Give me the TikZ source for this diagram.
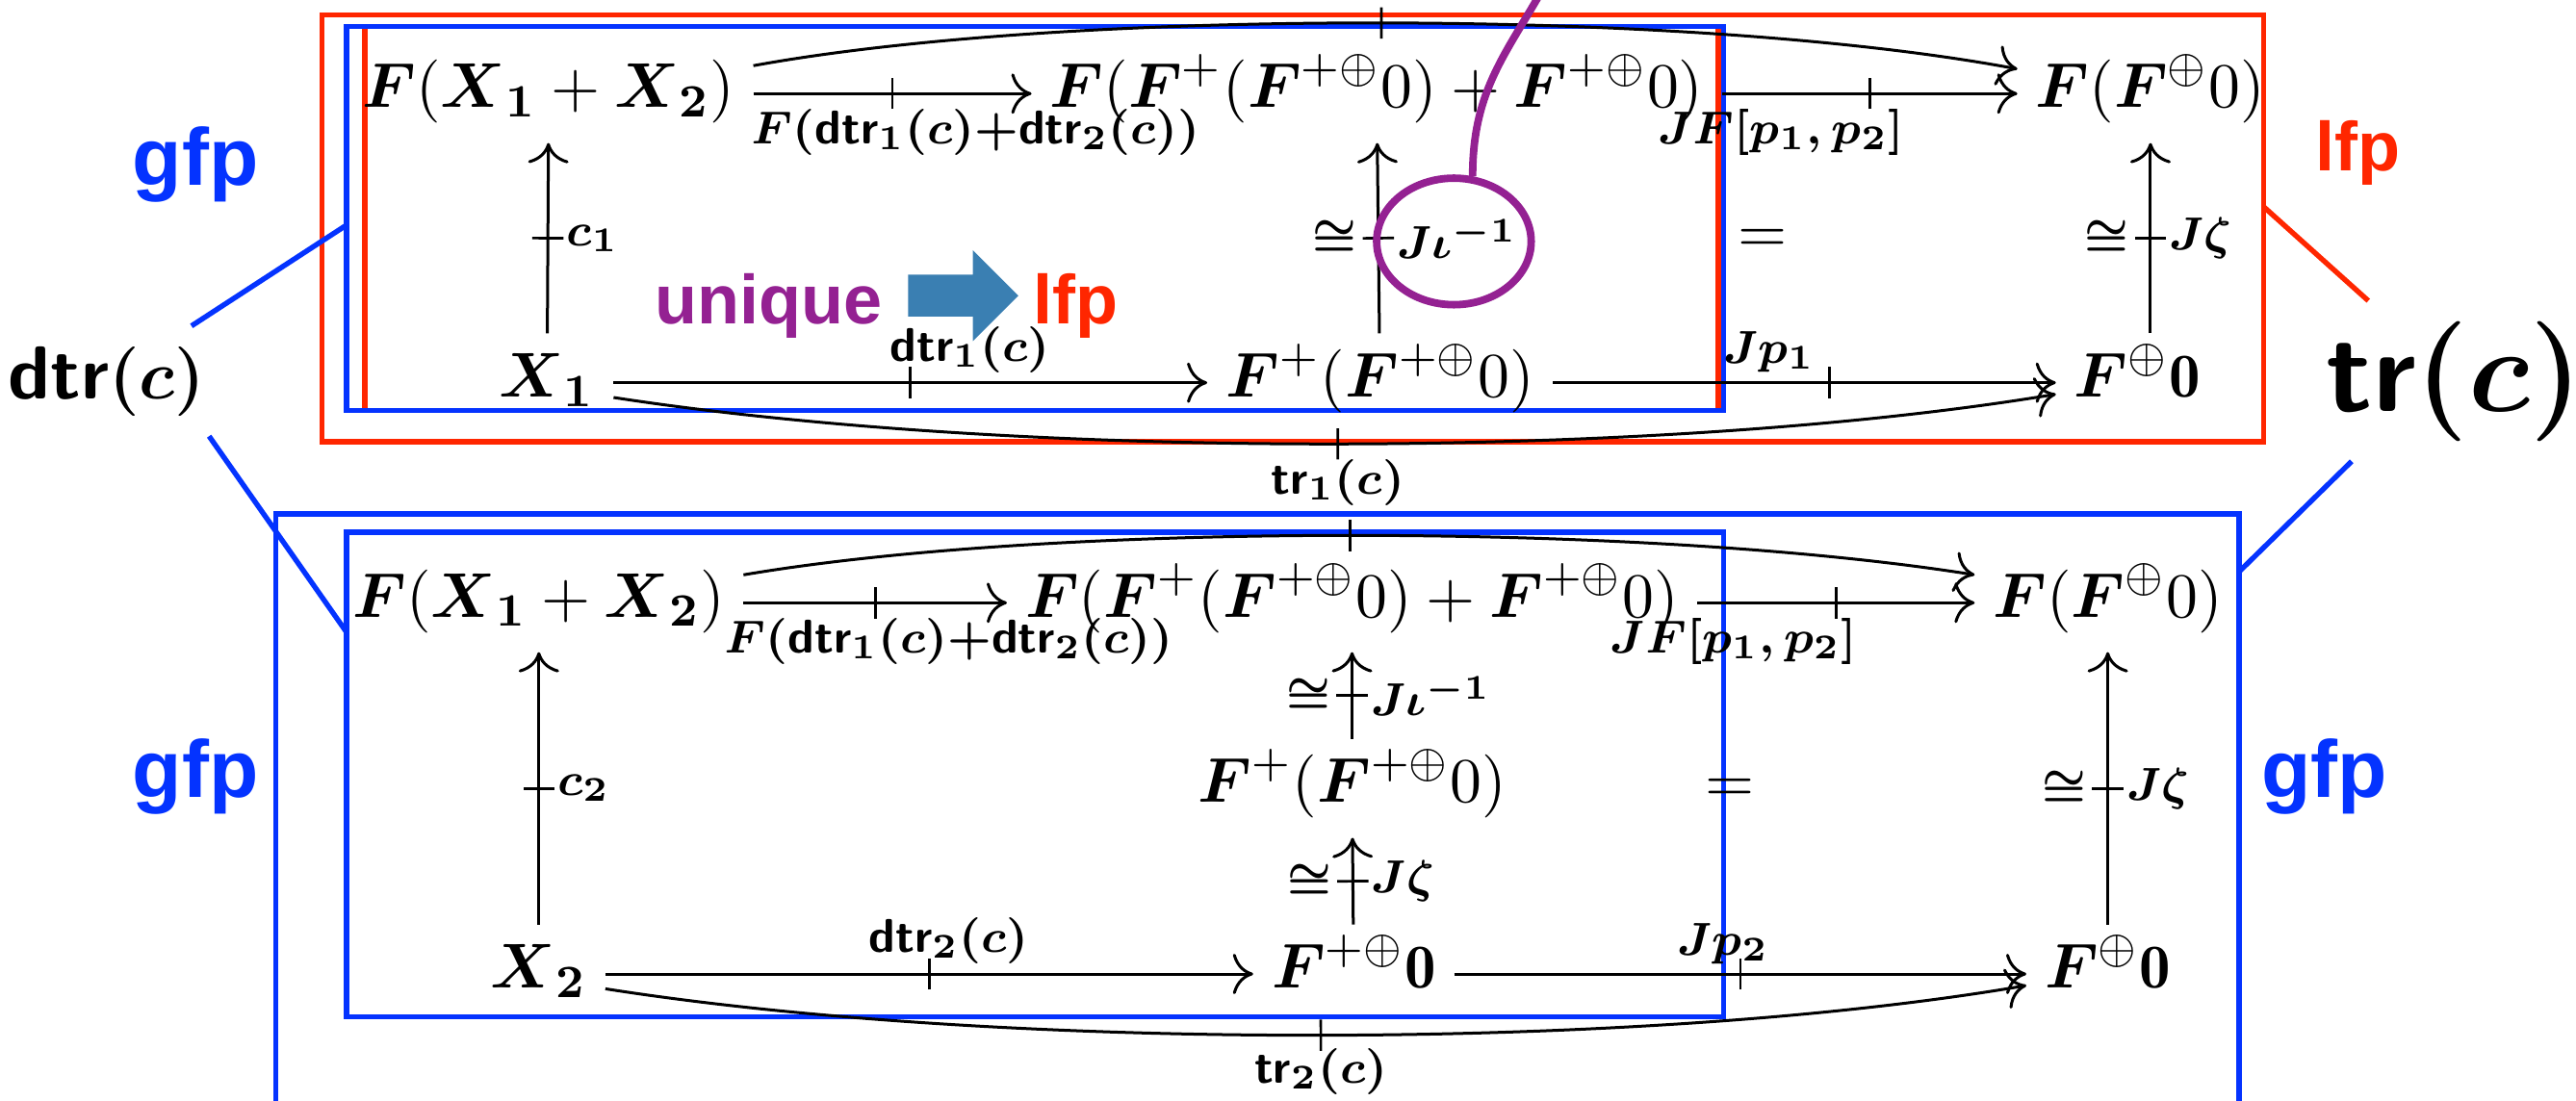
\documentclass[tikz,border=0pt]{standalone}
\usepackage{amsmath}
\usepackage{fontspec}
\newfontfamily\helv{Liberation Sans}
\usepackage{tikz}
\usetikzlibrary{arrows.meta, shapes.geometric, shapes.arrows, positioning, calc}

\definecolor{kred}{RGB}{255,38,0}
\definecolor{kblue}{RGB}{4,51,255}
\definecolor{kpurple}{RGB}{148,33,146}
\definecolor{ksteel}{RGB}{58,127,178}

\tikzset{
  obj/.style={font=\fontsize{10.8}{13}\selectfont, inner sep=3pt, text height=7.8pt, text depth=2.9pt},
  lbl/.style={font=\fontsize{8.2}{10}\selectfont\boldmath, inner sep=1.5pt},
  mor/.style={-{To[length=3.5pt,width=7pt]}, line width=0.5pt},
  tick/.style={sloped, inner sep=0pt, outer sep=0pt},
  frame/.style={line width=0.9pt},
  tag/.style={font=\helv\bfseries\fontsize{12}{14}\selectfont, inner sep=1pt},
  bigtag/.style={font=\helv\bfseries\fontsize{14}{16}\selectfont, inner sep=1pt},
}
\newcommand{\tk}{\rule[-2.7pt]{0.45pt}{5.4pt}}
\newcommand{\Fb}{\boldsymbol{F}}
\newcommand{\Xb}{\boldsymbol{X}}

\begin{document}
\begin{tikzpicture}[x=0.01cm, y=-0.01cm]
  \useasboundingbox (0,0) rectangle (1568,670);

  % frames
  \draw[frame, kred] (196,9) rectangle (1378,269);
  \draw[frame, kred] (222,16) rectangle (1046,250);
  \draw[frame, kblue] (211,16) rectangle (1049,250);
  \draw[frame, kblue] (168,690) -- (168,313) -- (1363,313) -- (1363,690);
  \draw[frame, kblue] (211,324) rectangle (1049,619);

  % upper diagram
  \node[obj] (tFX) at (334,57) {$\Fb(\Xb_{\boldsymbol{1}}+\Xb_{\boldsymbol{2}})$};
  \node[obj] (tFS) at (838,57) {$\Fb(\Fb^+(\Fb^{+\oplus}0)+\Fb^{+\oplus}0)$};
  \node[obj] (tFF) at (1309,57) {$\Fb(\Fb^{\oplus}0)$};
  \node[obj] (tX) at (333,233) {$\Xb_{\boldsymbol{1}}$};
  \node[obj] (tFP) at (840,233) {$\Fb^+(\Fb^{+\oplus}0)$};
  \node[obj] (tFO) at (1301,233) {$\Fb^{\oplus}\mathbf{0}$};
  \node[obj] (teq) at (1073,145) {$=$};

  \draw[mor] (tFX) -- node[tick]{\tk} node[lbl, pos=0.8, below=1pt]{$F(\mathsf{dtr}_1(c){+}\mathsf{dtr}_2(c))$} (tFS);
  \draw[mor] (tFS) -- node[tick]{\tk} node[lbl, pos=0.2, below=1pt]{$JF[p_1,p_2]$} (tFF);
  \draw[mor] (tX) -- node[tick]{\tk} node[lbl, right=1.5pt]{$c_1$} (tFX);
  \draw[mor] (tFP) -- node[tick]{\tk} node[lbl, left=2pt]{$\cong$} node[lbl, right=1.5pt]{$J\iota^{-1}$} (tFS);
  \draw[mor] (tFO.north -| tFF.south) -- node[tick]{\tk} node[lbl, left=2pt]{$\cong$} node[lbl, right=1.5pt]{$J\zeta$} (tFF.south);
  \draw[mor] (tX) -- node[tick]{\tk} node[lbl, pos=0.6, above]{$\mathsf{dtr}_1(c)$} (tFP);
  \draw[mor] (tFP) -- node[tick, pos=0.55]{\tk} node[lbl, pos=0.43, above]{$Jp_1$} (tFO);
  \draw[mor] ([yshift=1.7mm]tFX.east) .. controls (650,5) and (1030,5) .. ([yshift=1.5mm]tFF.west)
    node[tick, pos=0.5]{\tk};
  \draw[mor] ([yshift=-0.9mm]tX.east) .. controls (620,280) and (1010,280) .. ([yshift=-0.7mm]tFO.west)
    node[tick, pos=0.5]{\tk} node[lbl, pos=0.5, below=1pt]{$\mathsf{tr}_1(c)$};

  % lower diagram
  \node[obj] (bFX) at (328,367) {$\Fb(\Xb_{\boldsymbol{1}}+\Xb_{\boldsymbol{2}})$};
  \node[obj] (bFS) at (823,367) {$\Fb(\Fb^+(\Fb^{+\oplus}0)+\Fb^{+\oplus}0)$};
  \node[obj] (bFF) at (1283,367) {$\Fb(\Fb^{\oplus}0)$};
  \node[obj] (bFP) at (823,480) {$\Fb^+(\Fb^{+\oplus}0)$};
  \node[obj] (bX) at (328,593) {$\Xb_{\boldsymbol{2}}$};
  \node[obj] (bFQ) at (824,593) {$\Fb^{+\oplus}\mathbf{0}$};
  \node[obj] (bFO) at (1283,593) {$\Fb^{\oplus}\mathbf{0}$};
  \node[obj] (beq) at (1053,480) {$=$};

  \draw[mor] (bFX) -- node[tick]{\tk} node[lbl, pos=0.78, below=1pt]{$F(\mathsf{dtr}_1(c){+}\mathsf{dtr}_2(c))$} (bFS);
  \draw[mor] (bFS) -- node[tick]{\tk} node[lbl, pos=0.13, below=1pt]{$JF[p_1,p_2]$} (bFF);
  \draw[mor] (bX) -- node[tick]{\tk} node[lbl, right=1.5pt]{$c_2$} (bFX);
  \draw[mor] (bFP) -- node[tick]{\tk} node[lbl, left=2pt]{$\cong$} node[lbl, right=1.5pt]{$J\iota^{-1}$} (bFS);
  \draw[mor] (bFQ) -- node[tick]{\tk} node[lbl, left=2pt]{$\cong$} node[lbl, right=1.5pt]{$J\zeta$} (bFP);
  \draw[mor] (bFO) -- node[tick]{\tk} node[lbl, left=2pt]{$\cong$} node[lbl, right=1.5pt]{$J\zeta$} (bFF);
  \draw[mor] (bX) -- node[tick]{\tk} node[lbl, pos=0.53, above]{$\mathsf{dtr}_2(c)$} (bFQ);
  \draw[mor] (bFQ) -- node[tick]{\tk} node[lbl, pos=0.47, above]{$Jp_2$} (bFO);
  \draw[mor] ([yshift=1.7mm]bFX.east) .. controls (640,318) and (1000,318) .. ([yshift=1.7mm]bFF.west)
    node[tick, pos=0.5]{\tk};
  \draw[mor] ([yshift=-0.9mm]bX.east) .. controls (610,640) and (1000,640) .. ([yshift=-0.7mm]bFO.west)
    node[tick, pos=0.5]{\tk} node[lbl, pos=0.5, below=0.5pt]{$\mathsf{tr}_2(c)$};

  % side notes
  \node[font=\fontsize{13}{15}\selectfont\boldmath] (dtr) at (65,232) {$\mathsf{dtr}(c)$};
  \node[font=\fontsize{20}{24}\selectfont\boldmath] (tr) at (1494,232) {$\mathsf{tr}(c)$};
  \coordinate (tinL) at (211,137);
  \coordinate (binL) at (211,385);
  \coordinate (redR) at (1378,126);
  \coordinate (boutR) at (1363,348);
  \draw[frame, kblue] (dtr) -- (tinL);
  \draw[frame, kblue] ([xshift=-1mm]dtr.south east) -- (binL);
  \draw[frame, kred] (redR) -- (tr.137);
  \draw[frame, kblue] (tr.218) -- (boutR);

  \node[bigtag, kblue] (gfpa) at (119,100) {gfp};
  \node[bigtag, kblue] (gfpb) at (119,473) {gfp};
  \node[bigtag, kblue] (gfpc) at (1415,473) {gfp};
  \node[tag, kred] (lfpa) at (1435,93) {lfp};

  \node[tag, kpurple] (uniq) at (468,186) {unique};
  \node[single arrow, fill=ksteel, minimum height=0.67cm, inner sep=0.12cm,
    single arrow head extend=0.15cm] (uarr) at (580,180) {};
  \node[tag, kred] (lfpm) at (655,186) {lfp};

  \node[draw=kpurple, line width=1.3pt, ellipse, minimum width=0.94cm, minimum height=0.77cm] (circ) at (885,147) {};
  \coordinate (callout) at (937,-3);
  \draw[kpurple, line width=1.3pt] (circ.74) .. controls +(0,-50) and +(-22,38) .. (callout);
\end{tikzpicture}
\end{document}
